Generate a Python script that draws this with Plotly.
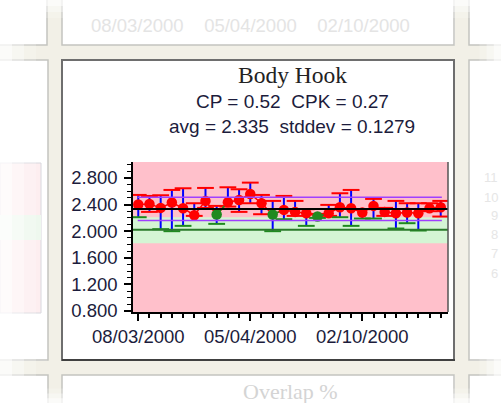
import plotly.graph_objects as go

# ---------------- data ----------------
sample_idx = list(range(28))
means = [2.40, 2.41, 2.35, 2.43, 2.345, 2.24, 2.455, 2.25, 2.435, 2.47,
         2.56, 2.42, 2.25, 2.32, 2.29, 2.27, 2.22, 2.27, 2.36, 2.345,
         2.28, 2.38, 2.29, 2.27, 2.28, 2.27, 2.345, 2.36]
highs = [2.545, 2.53, 2.54, 2.62, 2.645, 2.42, 2.65, 2.38, 2.66, 2.63,
         2.73, 2.545, 2.455, 2.53, 2.455, 2.33, 2.26, 2.395, 2.57, 2.62,
         2.33, 2.485, 2.35, 2.455, 2.42, 2.42, 2.42, 2.455]
lows = [2.21, 2.29, 2.03, 2.00, 2.08, 2.23, 2.35, 2.11, 2.37, 2.29,
        2.42, 2.255, 2.00, 2.18, 2.23, 2.08, 2.20, 2.23, 2.21, 2.08,
        2.19, 2.19, 2.23, 2.04, 2.12, 2.01, 2.30, 2.22]
in_band_points = [7, 12, 16]          # samples drawn as green
tick_positions = [0, 10, 20]
tick_labels = ["08/03/2000", "05/04/2000", "02/10/2000"]

avg = 2.335
ucl = 2.51
lcl = 2.16
target = 2.02
band_low, band_high = 1.82, 2.21
y_range = [0.785, 3.04]
x_range = [-0.47, 27.65]

RED = "#ff0000"
GREEN = "#1f8a1f"
BLUE = "#0000ff"
PURPLE = "#a040ff"

W, H = 501, 403
def px(x):
    return x / W
def py(y):
    return 1 - y / H

fig = go.Figure()

pt_colors = [GREEN if i in in_band_points else RED for i in sample_idx]
low_cap_colors = [GREEN if band_low <= v <= band_high else RED for v in lows]
high_cap_colors = [GREEN if band_low <= v <= band_high else RED for v in highs]

# vertical range bars
fig.add_trace(go.Scatter(
    x=sample_idx, y=means, mode="markers",
    marker=dict(size=1, color="rgba(0,0,0,0)"),
    error_y=dict(type="data", symmetric=False,
                 array=[h - m for h, m in zip(highs, means)],
                 arrayminus=[m - l for m, l in zip(means, lows)],
                 color=BLUE, thickness=2, width=0),
    hoverinfo="skip", showlegend=False))

# caps
fig.add_trace(go.Scatter(
    x=sample_idx, y=highs, mode="markers",
    marker=dict(symbol="line-ew", size=12,
                line=dict(width=2, color=high_cap_colors)),
    showlegend=False, hoverinfo="skip"))
fig.add_trace(go.Scatter(
    x=sample_idx, y=lows, mode="markers",
    marker=dict(symbol="line-ew", size=12,
                line=dict(width=2, color=low_cap_colors)),
    showlegend=False, hoverinfo="skip"))

# connecting line
fig.add_trace(go.Scatter(
    x=sample_idx, y=means, mode="lines",
    line=dict(color=RED, width=1.5), showlegend=False, hoverinfo="skip"))
for i in in_band_points:
    if i + 1 < len(means):
        fig.add_trace(go.Scatter(
            x=[sample_idx[i], sample_idx[i + 1]], y=[means[i], means[i + 1]],
            mode="lines", line=dict(color=GREEN, width=1.5),
            showlegend=False, hoverinfo="skip"))

# markers
fig.add_trace(go.Scatter(
    x=sample_idx, y=means, mode="markers",
    marker=dict(size=10.5, color=pt_colors, line=dict(width=0)),
    showlegend=False))

shapes = []
# ---- surroundings (faded neighbouring panels) ----
BEIGE = "#f2f0e7"
shapes += [
    dict(type="rect", xref="paper", yref="paper", x0=px(47), x1=px(62), y0=0, y1=1,
         fillcolor=BEIGE, line=dict(width=0), layer="below"),
    dict(type="rect", xref="paper", yref="paper", x0=px(455), x1=px(469), y0=0, y1=1,
         fillcolor=BEIGE, line=dict(width=0), layer="below"),
    dict(type="rect", xref="paper", yref="paper", x0=0, x1=1, y0=py(60), y1=py(45),
         fillcolor=BEIGE, line=dict(width=0), layer="below"),
    dict(type="rect", xref="paper", yref="paper", x0=0, x1=1, y0=py(375), y1=py(361),
         fillcolor=BEIGE, line=dict(width=0), layer="below"),
]
# neighbour panel borders
for (x0, x1, y0, y1) in [(62, 454, -10, 45), (-10, 47, -10, 45), (469, 520, -10, 45),
                         (-10, 48, 60, 360), (469, 520, 60, 360),
                         (62, 454, 375, 420), (-10, 48, 375, 420), (469, 520, 375, 420)]:
    shapes.append(dict(type="rect", xref="paper", yref="paper",
                       x0=px(x0), x1=px(x1), y0=py(y1), y1=py(y0),
                       fillcolor="white", line=dict(color="#c4c4c0", width=1.5),
                       layer="below"))
# faded plot on left panel
shapes.append(dict(type="rect", xref="paper", yref="paper",
                   x0=0, x1=px(41), y0=py(313), y1=py(163),
                   fillcolor="#fdeef0", line=dict(color="#d8d8de", width=1), layer="below"))
shapes.append(dict(type="rect", xref="paper", yref="paper",
                   x0=0, x1=px(41), y0=py(240), y1=py(215),
                   fillcolor="#eef8ee", line=dict(width=0), layer="below"))
# main panel
shapes.append(dict(type="rect", xref="paper", yref="paper",
                   x0=px(62), x1=px(454), y0=py(360), y1=py(60),
                   fillcolor="white", line=dict(color="#6e6e6e", width=2), layer="below"))
shapes.append(dict(type="line", xref="paper", yref="paper",
                   x0=px(62), x1=px(455), y0=py(360), y1=py(360),
                   line=dict(color="#404040", width=2), layer="below"))

# ---- chart backgrounds ----
shapes.append(dict(type="rect", xref="x domain", yref="y domain", x0=0, x1=1, y0=0, y1=1,
                   fillcolor="#ffc0cb", line=dict(width=0), layer="below"))
shapes.append(dict(type="rect", xref="x domain", yref="y", x0=0, x1=1,
                   y0=band_low, y1=band_high,
                   fillcolor="#d4f5d4", line=dict(width=0), layer="below"))
# ---- limit lines ----
shapes.append(dict(type="line", xref="x", yref="y", x0=-0.05, x1=27.1, y0=ucl, y1=ucl,
                   line=dict(color=PURPLE, width=1.5), layer="above"))
shapes.append(dict(type="line", xref="x", yref="y", x0=-0.05, x1=27.1, y0=lcl, y1=lcl,
                   line=dict(color=PURPLE, width=1.5), layer="above"))
shapes.append(dict(type="line", xref="x domain", yref="y", x0=0, x1=1, y0=target, y1=target,
                   line=dict(color="#2a7a2a", width=2), layer="above"))
shapes.append(dict(type="line", xref="x domain", yref="y", x0=0, x1=1, y0=avg, y1=avg,
                   line=dict(color="#000000", width=2), layer="above"))
# right border of plot area
shapes.append(dict(type="line", xref="x domain", yref="y domain", x0=1, x1=1, y0=0, y1=1,
                   line=dict(color="#555555", width=1.5), layer="above"))

# ---- soft white fade toward the picture edges ----
for d, op in [(12, 0.55), (24, 0.35), (36, 0.2)]:
    shapes += [
        dict(type="rect", xref="paper", yref="paper", x0=0, x1=px(d), y0=0, y1=1,
             fillcolor="white", opacity=op, line=dict(width=0), layer="above"),
        dict(type="rect", xref="paper", yref="paper", x0=px(W - d * 0.6), x1=1, y0=0, y1=1,
             fillcolor="white", opacity=op, line=dict(width=0), layer="above"),
        dict(type="rect", xref="paper", yref="paper", x0=0, x1=1, y0=py(d * 0.5), y1=1,
             fillcolor="white", opacity=op, line=dict(width=0), layer="above"),
        dict(type="rect", xref="paper", yref="paper", x0=0, x1=1, y0=0, y1=py(H - d * 0.4),
             fillcolor="white", opacity=op, line=dict(width=0), layer="above"),
    ]

TXT = "#1c1c3c"
annotations = [
    dict(text="Body Hook", xref="paper", yref="paper", x=px(292), y=py(75),
         font=dict(family="Liberation Serif", size=23.5, color="#222222")),
    dict(text="CP = 0.52  CPK = 0.27", xref="paper", yref="paper", x=px(292), y=py(101),
         font=dict(family="Liberation Sans", size=19, color=TXT)),
    dict(text="avg = 2.335  stddev = 0.1279", xref="paper", yref="paper", x=px(292), y=py(126),
         font=dict(family="Liberation Sans", size=19, color=TXT)),
    dict(text="08/03/2000    05/04/2000    02/10/2000", xref="paper", yref="paper",
         x=px(250), y=py(25),
         font=dict(family="Liberation Sans", size=18.5, color="#e4e4e4")),
    dict(text="Overlap %", xref="paper", yref="paper", x=px(290), y=py(391),
         font=dict(family="Liberation Serif", size=22, color="#d4d4d4")),
]
for lab, yy in [("11", 178), ("10", 197), ("9", 216), ("8", 235), ("7", 254), ("6", 273)]:
    annotations.append(dict(text=lab, xref="paper", yref="paper", x=px(500), y=py(yy),
                            xanchor="right",
                            font=dict(family="Liberation Sans", size=13, color="#e6e6e6")))
for a in annotations:
    a["showarrow"] = False
    a["yanchor"] = "middle"

fig.update_layout(
    width=W, height=H, margin=dict(l=0, r=0, t=0, b=0, pad=0, autoexpand=False),
    paper_bgcolor="white", plot_bgcolor="rgba(0,0,0,0)",
    shapes=shapes, annotations=annotations, showlegend=False,
    xaxis=dict(domain=[px(133), px(448)], range=x_range, automargin=False,
               tickmode="array", tickvals=tick_positions, ticktext=tick_labels,
               ticks="outside", ticklen=7, tickwidth=1.5, tickcolor="#000",
               ticklabelstandoff=0,
               showline=True, linecolor="#000", linewidth=1.5, showgrid=False,
               zeroline=False,
               minor=dict(ticks="outside", ticklen=4, tickwidth=1.5, tickcolor="#000",
                          dtick=1, tick0=0, showgrid=False),
               tickfont=dict(family="Liberation Sans", size=18.5, color=TXT)),
    yaxis=dict(domain=[py(312), py(162)], range=y_range, automargin=False,
               tickmode="linear", tick0=0.8, dtick=0.4, tickformat=".3f",
               ticks="outside", ticklen=7, tickwidth=1.5, tickcolor="#000",
               ticklabelstandoff=3,
               showline=True, linecolor="#000", linewidth=1.5, mirror=False,
               showgrid=False, zeroline=False,
               minor=dict(ticks="outside", ticklen=4, tickwidth=1, tickcolor="#000",
                          dtick=0.1, tick0=0.8, showgrid=False),
               tickfont=dict(family="Liberation Sans", size=18.5, color=TXT)),
)

fig.write_html("out.html", config={"displayModeBar": False},
               post_script="document.body.style.margin='0px';document.body.style.overflow='hidden';")
